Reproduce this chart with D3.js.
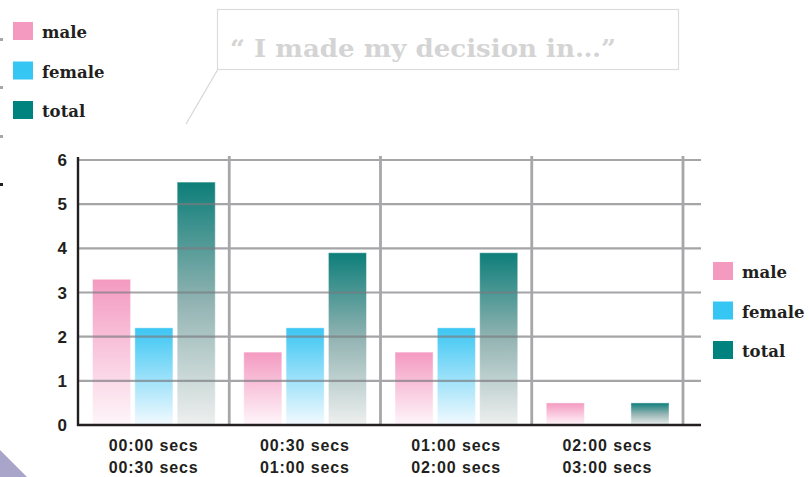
<!DOCTYPE html>
<html>
<head>
<meta charset="utf-8">
<script src="https://cdn.jsdelivr.net/npm/d3@7"></script>
<style>
  body { margin: 0; background: #fff; }
  svg { display: block; }
</style>
</head>
<body>
<script>
// data
var categories = ["00:00 secs|00:30 secs", "00:30 secs|01:00 secs", "01:00 secs|02:00 secs", "02:00 secs|03:00 secs"];
var series = ["male", "female", "total"];
var male   = [3.3, 1.65, 1.65, 0.5];
var female = [2.2, 2.2, 2.2, 0];
var total  = [5.5, 3.9, 3.9, 0.5];
var yTicks = [0, 1, 2, 3, 4, 5, 6];
var title = "\u201C I made my decision in\u2026\u201D";

var colors = { male: "#f49ac1", female: "#35c6f4", total: "#00827f" };
var grads = {
  male:   [["0%", "#f49ac1"], ["100%", "#fef6fa"]],
  female: [["0%", "#3cc6f3"], ["100%", "#f3faff"]],
  total:  [["0%", "#0d7e79"], ["50%", "#93b4b3"], ["100%", "#eef0ef"]]
};

var W = 809, H = 477;
var ink = "#231f20";

var svg = d3.select("body").append("svg")
    .attr("width", W)
    .attr("height", H);

var defs = svg.append("defs");
series.forEach(function(s) {
  var g = defs.append("linearGradient")
      .attr("id", "g-" + s)
      .attr("x1", 0).attr("y1", 0).attr("x2", 0).attr("y2", 1);
  grads[s].forEach(function(st) {
    g.append("stop").attr("offset", st[0]).attr("stop-color", st[1]);
  });
});

var pLeft = 78, pRight = 683, gridRight = 701, pTop = 160, pBottom = 425;

var x0 = d3.scaleBand().domain(categories).range([pLeft, pRight]);
var x1 = d3.scaleBand().domain(series).range([14.5, x0.bandwidth() - 14]).paddingInner(0.1);
var y = d3.scaleLinear().domain([0, 6]).range([pBottom, pTop]);

var rows = categories.map(function(c, i) {
  return { cat: c, values: [
    { key: "male", v: male[i] },
    { key: "female", v: female[i] },
    { key: "total", v: total[i] }
  ]};
});

// bars
var groups = svg.append("g").selectAll("g")
    .data(rows)
    .enter().append("g")
    .attr("transform", function(d) { return "translate(" + x0(d.cat) + ",0)"; });

groups.selectAll("rect")
    .data(function(d) { return d.values.filter(function(e) { return e.v > 0; }); })
    .enter().append("rect")
    .attr("x", function(d) { return x1(d.key); })
    .attr("y", function(d) { return y(d.v); })
    .attr("width", x1.bandwidth())
    .attr("height", function(d) { return y(0) - y(d.v); })
    .attr("fill", function(d) { return "url(#g-" + d.key + ")"; })
    .attr("stroke", "#ffffff")
    .attr("stroke-opacity", 0.45)
    .attr("stroke-width", 1);

// grid drawn over the bars
svg.append("g").selectAll("line")
    .data(yTicks.filter(function(t) { return t > 0; }))
    .enter().append("line")
    .attr("x1", pLeft).attr("x2", gridRight)
    .attr("y1", function(d) { return y(d); })
    .attr("y2", function(d) { return y(d); })
    .attr("stroke", "#7b7b7f")
    .attr("stroke-opacity", 0.68)
    .attr("stroke-width", 2.2);

svg.append("g").selectAll("line")
    .data(categories)
    .enter().append("line")
    .attr("x1", function(d) { return x0(d) + x0.bandwidth(); })
    .attr("x2", function(d) { return x0(d) + x0.bandwidth(); })
    .attr("y1", pTop - 4).attr("y2", pBottom)
    .attr("stroke", "#a7a7aa")
    .attr("stroke-width", 2.8);

// axes lines
svg.append("line")
    .attr("x1", pLeft).attr("x2", pLeft)
    .attr("y1", pTop - 3).attr("y2", pBottom + 1)
    .attr("stroke", ink).attr("stroke-width", 2.4);
svg.append("line")
    .attr("x1", pLeft - 1).attr("x2", gridRight)
    .attr("y1", pBottom).attr("y2", pBottom)
    .attr("stroke", ink).attr("stroke-width", 2.4);

// y tick labels
svg.append("g").selectAll("text")
    .data(yTicks)
    .enter().append("text")
    .attr("x", 67)
    .attr("y", function(d) { return y(d) + 6; })
    .attr("text-anchor", "end")
    .attr("font-family", "Liberation Sans, Arial, sans-serif")
    .attr("font-weight", "bold")
    .attr("font-size", 17)
    .attr("fill", ink)
    .text(function(d) { return d; });

// x labels, two lines
var xl = svg.append("g").selectAll("text")
    .data(categories)
    .enter().append("text")
    .attr("text-anchor", "middle")
    .attr("font-family", "Liberation Sans, Arial, sans-serif")
    .attr("font-weight", "bold")
    .attr("font-size", 16)
    .attr("letter-spacing", 0.9)
    .attr("fill", ink);
xl.each(function(d) {
  var cx = x0(d) + x0.bandwidth() / 2;
  var parts = d.split("|");
  d3.select(this).selectAll("tspan")
      .data(parts)
      .enter().append("tspan")
      .attr("x", cx)
      .attr("y", function(p, i) { return 451 + i * 22; })
      .text(function(p) { return p; });
});

// legends
function legend(xp, yp, gap) {
  var g = svg.append("g").attr("transform", "translate(" + xp + "," + yp + ")");
  var it = g.selectAll("g").data(series).enter().append("g")
      .attr("transform", function(d, i) { return "translate(0," + i * gap + ")"; });
  it.append("rect")
      .attr("width", 20).attr("height", 18)
      .attr("fill", function(d) { return colors[d]; });
  it.append("text")
      .attr("x", 29).attr("y", 16)
      .attr("font-family", "DejaVu Serif, serif")
      .attr("font-weight", "bold")
      .attr("font-size", 16.5)
      .attr("fill", ink)
      .text(function(d) { return d; });
}
legend(13, 22, 39.5);
legend(713, 262, 39.5);

// title callout
svg.append("rect")
    .attr("x", 217.5).attr("y", 9.5)
    .attr("width", 461).attr("height", 60)
    .attr("fill", "none")
    .attr("stroke", "#dcdcdc")
    .attr("stroke-width", 1.2);
svg.append("line")
    .attr("x1", 217.5).attr("y1", 70)
    .attr("x2", 186).attr("y2", 124)
    .attr("stroke", "#d6d6d6")
    .attr("stroke-width", 1.2);
svg.append("text")
    .attr("x", 230).attr("y", 57)
    .attr("font-family", "DejaVu Serif, serif")
    .attr("font-weight", "bold")
    .attr("font-size", 25)
    .attr("fill", "#d4d4d4")
    .attr("textLength", 386)
    .attr("lengthAdjust", "spacingAndGlyphs")
    .text(title);

// cropped fragments on the edges
var edgeMarks = [[38, "#a7a7a9"], [86, "#a7a7a9"], [135, "#a7a7a9"], [183, ink]];
svg.append("g").selectAll("rect")
    .data(edgeMarks)
    .enter().append("rect")
    .attr("x", 0).attr("y", function(d) { return d[0]; })
    .attr("width", 3).attr("height", 3)
    .attr("fill", function(d) { return d[1]; });

svg.append("path")
    .attr("d", d3.line()([[0, 450], [27, 477], [0, 477]]) + "Z")
    .attr("fill", "#a9a4c9");
</script>
</body>
</html>
